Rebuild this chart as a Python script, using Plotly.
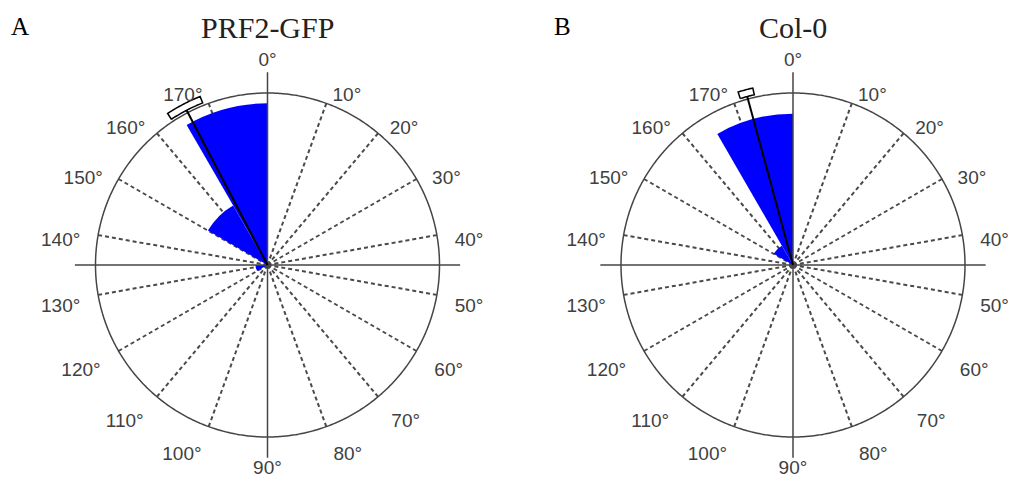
import numpy as np
import plotly.graph_objects as go

W, H = 1015, 479

# ---- data (axial orientations, 0-180 deg, 15-deg bins) ----
bin_start = [0, 15, 30, 45, 60, 75, 90, 105, 120, 135, 150, 165]
bin_width = 15
prf2_freq = [0, 0, 0, 0, 0, 0, 0, 0, 0.07, 0, 0.40, 0.94]
col0_freq = [0, 0, 0, 0, 0, 0, 0, 0, 0, 0, 0.13, 0.88]
prf2_mean = 166.2
prf2_ci = [163.3, 169.1]
col0_mean = 172.4
col0_ci = [171.2, 173.6]
tick_deg = list(range(0, 180, 10))
tick_text = [f"{d}°" for d in tick_deg]
axis_deg = [0, 45, 90, 135]
titles = ["PRF2-GFP", "Col-0"]
letters = ["A", "B"]

# ---- layout geometry ----
R_PX = 172.0
AXIS_EXT = 1.12
EDGE = 1.17
centers = [(267.5, 265.0), (793.0, 265.0)]
letter_x = [20, 562]

AX_COL = "#454545"
GRID_COL = "#4a4a4a"
LABEL_FONT = dict(family="Liberation Sans, Arial, sans-serif", size=19, color="#404040")


def vis(deg):
    """axial angle (0-180) -> full-circle display angle"""
    return 2.0 * np.asarray(deg, dtype=float)


def domain(cx, cy):
    half = R_PX * EDGE
    yb = H - cy
    return dict(x=[(cx - half) / W, (cx + half) / W], y=[(yb - half) / H, (yb + half) / H])


# label placement around the circle
lab_theta = vis(tick_deg)
lab_r, lab_pos = [], []
for t in lab_theta:
    if t == 0:
        lab_r.append(1.13); lab_pos.append("top center")
    elif t == 180:
        lab_r.append(1.13); lab_pos.append("bottom center")
    else:
        lower = 110 < t < 250
        lab_r.append(1.12 if lower else 1.105)
        lab_pos.append("bottom right" if t < 180 else "bottom left")

grid_vals = [t for t in lab_theta if t not in (0.0, 180.0)]

fig = go.Figure()
panels = [(prf2_freq, prf2_mean, prf2_ci), (col0_freq, col0_mean, col0_ci)]
circ_t = np.linspace(0, 360, 721)

for i, (freq, mean, ci) in enumerate(panels):
    sp = "polar" if i == 0 else "polar2"
    centers_theta = vis(np.array(bin_start) + bin_width / 2)
    fig.add_trace(go.Barpolar(
        r=freq, theta=centers_theta, width=[2 * bin_width] * len(freq),
        marker=dict(color="#0000FF", line=dict(width=0)), subplot=sp,
        hoverinfo="skip"))
    # white ring hiding grid beyond the outer circle
    fig.add_trace(go.Scatterpolar(
        r=[1.092] * len(circ_t), theta=circ_t, mode="lines",
        line=dict(color="white", width=30), subplot=sp, hoverinfo="skip"))
    # solid cross axes
    rr, tt = [], []
    for a in axis_deg:
        rr += [0, AXIS_EXT, None]
        tt += [vis(a), vis(a), None]
    fig.add_trace(go.Scatterpolar(
        r=rr, theta=tt, mode="lines", line=dict(color=AX_COL, width=1.5),
        subplot=sp, hoverinfo="skip"))
    # outer circle
    fig.add_trace(go.Scatterpolar(
        r=[1.0] * len(circ_t), theta=circ_t, mode="lines",
        line=dict(color=AX_COL, width=1.5), subplot=sp, hoverinfo="skip"))
    # mean direction
    fig.add_trace(go.Scatterpolar(
        r=[0, 1.015], theta=[vis(mean), vis(mean)], mode="lines",
        line=dict(color="black", width=2), subplot=sp, hoverinfo="skip"))
    # 95% confidence bracket
    arc = np.linspace(vis(ci[0]), vis(ci[1]), 20)
    br = [1.015] * len(arc) + [1.055] * len(arc) + [1.015]
    bt = list(arc) + list(arc[::-1]) + [arc[0]]
    fig.add_trace(go.Scatterpolar(
        r=br, theta=bt, mode="lines", line=dict(color="black", width=1.5),
        subplot=sp, hoverinfo="skip"))
    # angle labels
    fig.add_trace(go.Scatterpolar(
        r=lab_r, theta=lab_theta, mode="text", text=tick_text,
        textposition=lab_pos, textfont=LABEL_FONT, cliponaxis=False,
        subplot=sp, hoverinfo="skip"))

    cx, cy = centers[i]
    polar_cfg = dict(
        domain=domain(cx, cy),
        bgcolor="white",
        radialaxis=dict(visible=False, range=[0, EDGE]),
        angularaxis=dict(
            direction="clockwise", rotation=90,
            tickmode="array", tickvals=grid_vals,
            showticklabels=False,
            showgrid=True, gridcolor=GRID_COL, gridwidth=1.5, griddash="4px,3px",
            showline=False, ticks="",
        ),
        barmode="overlay",
    )
    if i == 0:
        fig.update_layout(polar=polar_cfg)
    else:
        fig.update_layout(polar2=polar_cfg)

    fig.add_annotation(
        text=titles[i], x=cx / W, y=1 - 28 / H, xref="paper", yref="paper",
        showarrow=False, xanchor="center", yanchor="middle",
        font=dict(family="Liberation Serif, Times New Roman, serif", size=30, color="#222222"))
    fig.add_annotation(
        text=letters[i], x=letter_x[i] / W, y=1 - 27 / H, xref="paper", yref="paper",
        showarrow=False, xanchor="center", yanchor="middle",
        font=dict(family="Liberation Serif, Times New Roman, serif", size=25, color="black"))

fig.update_layout(
    width=W, height=H, margin=dict(l=0, r=0, t=0, b=0),
    paper_bgcolor="white", showlegend=False,
)

fig.write_html("out.html")
